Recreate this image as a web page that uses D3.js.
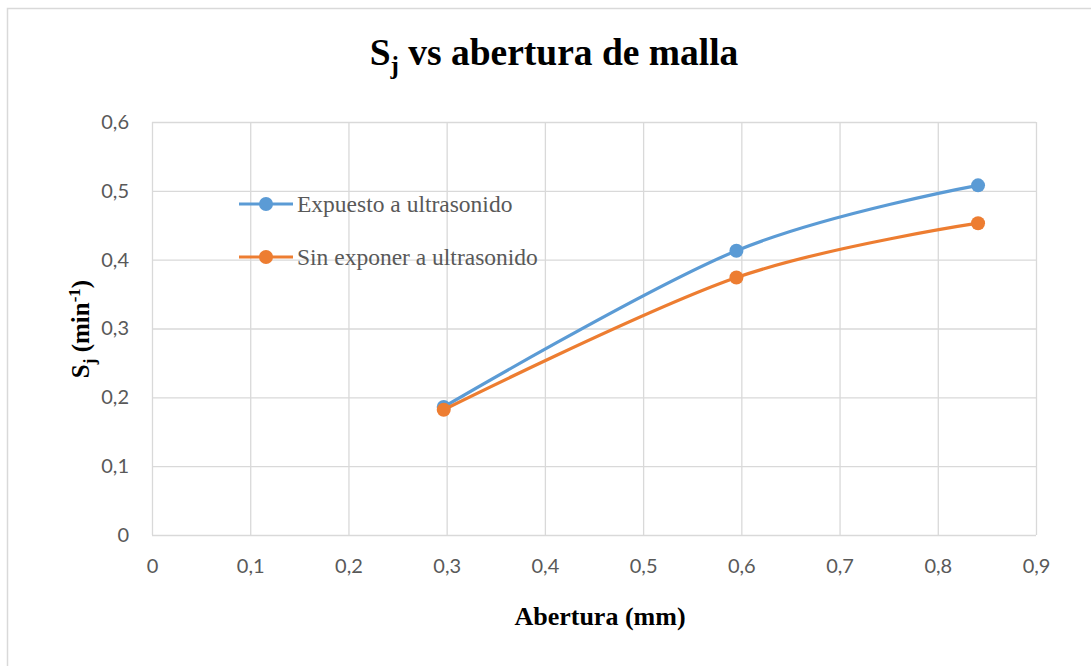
<!DOCTYPE html>
<html>
<head>
<meta charset="utf-8">
<script src="https://cdn.jsdelivr.net/npm/d3@7"></script>
<style>
  body { margin: 0; background: #fff; }
  .tick text { font-family: Lato, "Open Sans", sans-serif; font-size: 20px; fill: #595959; }
  .serif { font-family: "Liberation Serif", "DejaVu Serif", serif; }
</style>
</head>
<body>
<div id="chart"></div>
<script>
// data
var abertura = [0.297, 0.595, 0.841];
var expuesto = [0.186, 0.413, 0.508];
var sinExponer = [0.182, 0.374, 0.453];
var seriesNames = ["Expuesto a ultrasonido", "Sin exponer a ultrasonido"];
var seriesColors = ["#5B9BD5", "#ED7D31"];
var xTicks = [0, 0.1, 0.2, 0.3, 0.4, 0.5, 0.6, 0.7, 0.8, 0.9];
var yTicks = [0, 0.1, 0.2, 0.3, 0.4, 0.5, 0.6];

var chart = {
    svgWidth: 1091,
    svgHeight: 666,
    margin: {"top": 122, "bottom": 131, "left": 152, "right": 55},
};
chart.chartWidth = chart.svgWidth - (chart.margin.left + chart.margin.right);
chart.chartHeight = chart.svgHeight - (chart.margin.top + chart.margin.bottom);

var svg = d3.select("#chart").append("svg")
    .attr("width", chart.svgWidth)
    .attr("height", chart.svgHeight);

// outer frame
svg.append("rect")
    .attr("x", 7.5).attr("y", 8.5)
    .attr("width", 1100).attr("height", 700)
    .attr("fill", "none")
    .attr("stroke", "#D9D9D9")
    .attr("stroke-width", 1.5);

var xScale = d3.scaleLinear()
    .domain([0, 0.9])
    .range([chart.margin.left, chart.margin.left + chart.chartWidth]);

var yScale = d3.scaleLinear()
    .domain([0, 0.6])
    .range([chart.margin.top + chart.chartHeight, chart.margin.top]);

var fmt = d => d3.format("")(d).replace(".", ",");

// gridlines
svg.append("g")
    .attr("transform", "translate(0," + (chart.margin.top + chart.chartHeight) + ")")
    .call(d3.axisBottom(xScale).tickValues(xTicks).tickSize(-chart.chartHeight).tickFormat(""))
    .call(g => g.select(".domain").remove())
    .selectAll("line").attr("stroke", "#D9D9D9").attr("stroke-width", 1.3);

svg.append("g")
    .attr("transform", "translate(" + chart.margin.left + ",0)")
    .call(d3.axisLeft(yScale).tickValues(yTicks).tickSize(-chart.chartWidth).tickFormat(""))
    .call(g => g.select(".domain").remove())
    .selectAll("line").attr("stroke", "#D9D9D9").attr("stroke-width", 1.3);

// tick labels
svg.append("g")
    .attr("class", "xAxis")
    .attr("transform", "translate(0," + (chart.margin.top + chart.chartHeight) + ")")
    .call(d3.axisBottom(xScale).tickValues(xTicks).tickSize(0).tickPadding(24).tickFormat(fmt))
    .call(g => g.select(".domain").remove());

svg.append("g")
    .attr("class", "yAxis")
    .attr("transform", "translate(" + chart.margin.left + ",0)")
    .call(d3.axisLeft(yScale).tickValues(yTicks).tickSize(0).tickPadding(23).tickFormat(fmt))
    .call(g => g.select(".domain").remove());

// lines + markers
var allSeries = [expuesto, sinExponer];
var line = d3.line()
    .x(d => xScale(d[0]))
    .y(d => yScale(d[1]))
    .curve(d3.curveCatmullRom.alpha(0));

allSeries.forEach(function(vals, i) {
    var pts = abertura.map((a, j) => [a, vals[j]]);
    svg.append("path")
        .datum(pts)
        .attr("d", line)
        .attr("fill", "none")
        .attr("stroke", seriesColors[i])
        .attr("stroke-width", 3.2)
        .attr("stroke-linecap", "round");
    svg.selectAll("circle.s" + i)
        .data(pts)
        .enter().append("circle")
        .attr("class", "s" + i)
        .attr("cx", d => xScale(d[0]))
        .attr("cy", d => yScale(d[1]))
        .attr("r", 7)
        .attr("fill", seriesColors[i]);
});

// legend
var legendY = [204, 257];
seriesNames.forEach(function(name, i) {
    var g = svg.append("g").attr("transform", "translate(239," + legendY[i] + ")");
    g.append("line")
        .attr("x1", 0).attr("x2", 54)
        .attr("stroke", seriesColors[i]).attr("stroke-width", 3.2);
    g.append("circle").attr("cx", 27).attr("r", 7).attr("fill", seriesColors[i]);
    g.append("text")
        .attr("class", "serif")
        .attr("x", 58).attr("y", 8)
        .attr("font-size", "23.5px")
        .attr("fill", "#595959")
        .text(name);
});

// title
var title = svg.append("text")
    .attr("class", "serif")
    .attr("x", 554).attr("y", 65)
    .attr("text-anchor", "middle")
    .attr("font-size", "37.5px")
    .attr("font-weight", "bold")
    .attr("fill", "#000");
title.append("tspan").text("S");
title.append("tspan").attr("font-size", "25px").attr("dy", 9).text("j");
title.append("tspan").attr("dy", -9).text(" vs abertura de malla");

// x axis title
svg.append("text")
    .attr("class", "serif")
    .attr("x", 600).attr("y", 625)
    .attr("text-anchor", "middle")
    .attr("font-size", "26px")
    .attr("font-weight", "bold")
    .text("Abertura (mm)");

// y axis title
var yt = svg.append("text")
    .attr("class", "serif")
    .attr("transform", "translate(89,329) rotate(-90)")
    .attr("text-anchor", "middle")
    .attr("font-size", "25px")
    .attr("font-weight", "bold");
yt.append("tspan").text("S");
yt.append("tspan").attr("font-size", "17px").attr("dy", 6).text("j");
yt.append("tspan").attr("dy", -6).text(" (min");
yt.append("tspan").attr("font-size", "17px").attr("dy", -9).text("-1");
yt.append("tspan").attr("dy", 9).text(")");
</script>
</body>
</html>
